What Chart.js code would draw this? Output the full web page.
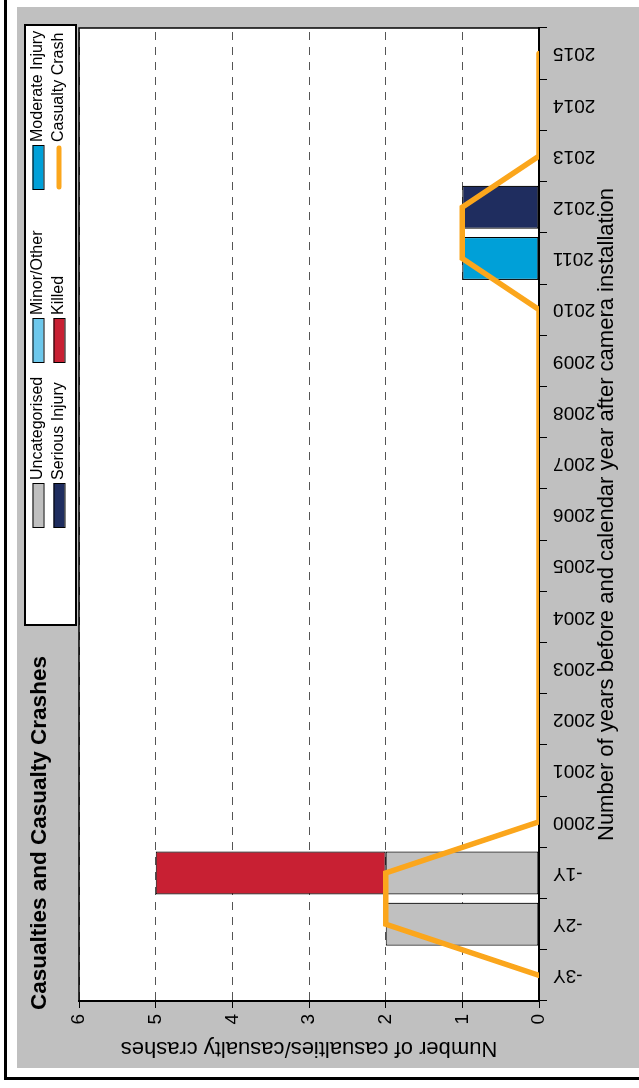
<!DOCTYPE html>
<html>
<head>
<meta charset="utf-8">
<script src="https://cdn.jsdelivr.net/npm/chart.js@4.4.1/dist/chart.umd.min.js"></script>
<style>
  html, body { margin: 0; padding: 0; background: #fff; overflow: hidden; }
  /* chart is drawn landscape, then turned a quarter left like the reference */
  #wrap {
    position: absolute; left: 0; top: 0;
    width: 1088px; height: 639px;
    transform-origin: 0 0;
    transform: translateY(1088px) rotate(-90deg);
  }
</style>
</head>
<body>
<div id="wrap"><canvas id="crashChart" width="1088" height="639"></canvas></div>
<script>
const years = ["-3Y", "-2Y", "-1Y", "2000", "2001", "2002", "2003", "2004", "2005",
  "2006", "2007", "2008", "2009", "2010", "2011", "2012", "2013", "2014", "2015"];

const uncategorised = [0, 2, 2, 0, 0, 0, 0, 0, 0, 0, 0, 0, 0, 0, 0, 0, 0, 0, 0];
const minorOther    = [0, 0, 0, 0, 0, 0, 0, 0, 0, 0, 0, 0, 0, 0, 0, 0, 0, 0, 0];
const moderate      = [0, 0, 0, 0, 0, 0, 0, 0, 0, 0, 0, 0, 0, 0, 1, 0, 0, 0, 0];
const serious       = [0, 0, 0, 0, 0, 0, 0, 0, 0, 0, 0, 0, 0, 0, 0, 1, 0, 0, 0];
const killed        = [0, 0, 3, 0, 0, 0, 0, 0, 0, 0, 0, 0, 0, 0, 0, 0, 0, 0, 0];
const casualtyCrash = [0, 2, 2, 0, 0, 0, 0, 0, 0, 0, 0, 0, 0, 0, 1, 1, 0, 0, 0];

const valueTicks = [0, 1, 2, 3, 4, 5, 6];

const FONT = "'Liberation Sans', Arial, sans-serif";
Chart.defaults.font.family = FONT;
Chart.defaults.color = "#000";

// empty stack pieces are left out so they draw nothing
const bars = (arr) => arr.map((v) => (v === 0 ? null : v));

const barSet = (label, values, color) => ({
  label: label,
  data: bars(values),
  backgroundColor: color,
  borderColor: "#000",
  borderWidth: 1.2,
  borderSkipped: false,
  barPercentage: 0.84,
  categoryPercentage: 1,
});

const frame = {
  id: "frame",
  beforeDraw(chart) {
    const { ctx, chartArea: a } = chart;
    ctx.save();
    ctx.fillStyle = "#fff";
    ctx.fillRect(0, 0, chart.width, chart.height);
    ctx.fillStyle = "#c0c0c0";
    ctx.fillRect(20, 17, 1061, 622);
    ctx.fillStyle = "#000";
    ctx.fillRect(8, 4, 1080, 3);
    ctx.fillRect(8, 4, 3, 635);
    ctx.fillStyle = "#fff";
    ctx.fillRect(a.left, a.top, a.right - a.left, a.bottom - a.top);
    ctx.restore();
  },
  beforeDatasetsDraw(chart) {
    const { ctx, chartArea: a } = chart;
    ctx.save();
    ctx.strokeStyle = "#000";
    ctx.lineWidth = 1.5;
    ctx.strokeRect(a.left, a.top, a.right - a.left, a.bottom - a.top);
    ctx.lineWidth = 2;
    ctx.beginPath();
    ctx.moveTo(a.left, a.top);
    ctx.lineTo(a.left, a.bottom);
    ctx.lineTo(a.right, a.bottom);
    ctx.stroke();
    ctx.restore();
  },
  afterDraw(chart) {
    const ctx = chart.ctx;
    ctx.save();

    // title
    ctx.fillStyle = "#000";
    ctx.font = "bold 22.5px " + FONT;
    ctx.textBaseline = "middle";
    ctx.textAlign = "left";
    ctx.fillText("Casualties and Casualty Crashes", 78, 40);

    // legend, 3 columns x 2 rows
    ctx.fillStyle = "#fff";
    ctx.fillRect(463, 25, 600, 51);
    ctx.strokeStyle = "#000";
    ctx.lineWidth = 2;
    ctx.strokeRect(463, 25, 600, 51);

    const cols = [560, 725, 898];
    const rows = [38, 59];
    ctx.font = "16px " + FONT;
    chart.data.datasets.forEach((ds, i) => {
      const x = cols[i % 3];
      const y = rows[Math.floor(i / 3)];
      if (ds.type === "line") {
        ctx.strokeStyle = ds.borderColor;
        ctx.lineWidth = 5;
        ctx.lineCap = "round";
        ctx.beginPath();
        ctx.moveTo(x + 3, y);
        ctx.lineTo(x + 42, y);
        ctx.stroke();
      } else {
        ctx.fillStyle = ds.backgroundColor;
        ctx.fillRect(x, y - 5.5, 45, 11);
        ctx.strokeStyle = "#000";
        ctx.lineWidth = 1;
        ctx.strokeRect(x + 0.5, y - 5, 44, 11);
      }
      ctx.fillStyle = "#000";
      ctx.fillText(ds.label, x + 48, y);
    });
    ctx.restore();
  },
};

const ctx = document.getElementById("crashChart").getContext("2d");

new Chart(ctx, {
  type: "bar",
  data: {
    labels: years,
    datasets: [
      barSet("Uncategorised", uncategorised, "#c0c0c0"),
      barSet("Minor/Other", minorOther, "#6dc8ec"),
      barSet("Moderate Injury", moderate, "#00a0d8"),
      barSet("Serious Injury", serious, "#1f2d5f"),
      barSet("Killed", killed, "#c82033"),
      {
        type: "line",
        label: "Casualty Crash",
        data: casualtyCrash,
        borderColor: "#fba61c",
        backgroundColor: "#fba61c",
        borderWidth: 5.5,
        pointRadius: 0,
        fill: false,
        tension: 0,
        stack: "line",
        order: -1,
        borderCapStyle: "round",
      },
    ],
  },
  options: {
    responsive: false,
    animation: false,
    layout: { padding: { top: 79, right: 28, bottom: 0, left: 0 } },
    plugins: {
      legend: { display: false },
      title: { display: false },
      tooltip: { enabled: false },
    },
    scales: {
      x: {
        stacked: true,
        afterFit: (scale) => { scale.height = 100; },
        grid: { drawOnChartArea: false, tickLength: 8, tickColor: "#000" },
        border: { color: "#000", width: 2 },
        ticks: {
          color: "#000",
          font: { size: 19 },
          minRotation: 90,
          maxRotation: 90,
          padding: 6,
          autoSkip: false,
        },
        title: {
          display: true,
          text: "Number of years before and calendar year after camera installation",
          color: "#000",
          font: { size: 22 },
          padding: { top: 0, bottom: 19 },
        },
      },
      y: {
        stacked: true,
        min: valueTicks[0],
        max: valueTicks[valueTicks.length - 1],
        afterFit: (scale) => { scale.width = 87; },
        afterBuildTicks: (scale) => {
          scale.ticks = valueTicks.map((v) => ({ value: v }));
        },
        grid: { color: "#555", tickColor: "#000", tickLength: 7 },
        border: { color: "#000", width: 2, dash: [8, 7] },
        ticks: { color: "#000", font: { size: 19 }, padding: 6 },
        title: {
          display: true,
          text: "Number of casualties/casualty crashes",
          color: "#000",
          font: { size: 22 },
          padding: { top: 27, bottom: 0 },
        },
      },
    },
  },
  plugins: [frame],
});
</script>
</body>
</html>
